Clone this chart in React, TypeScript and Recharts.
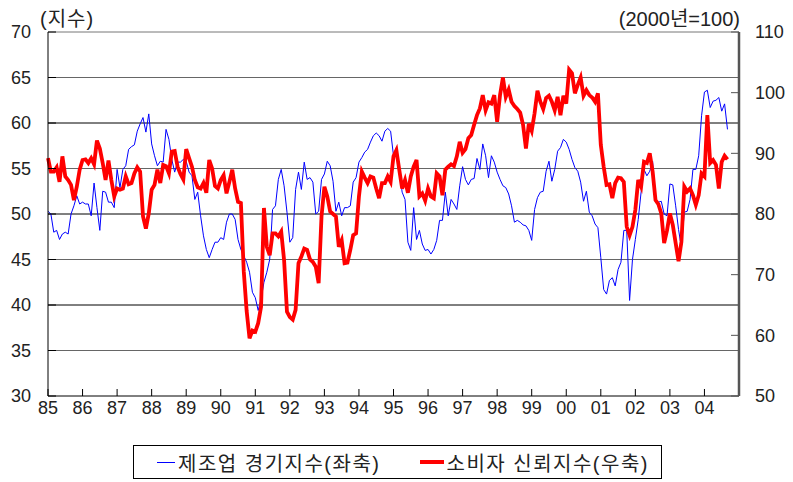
import { CartesianGrid, Line, LineChart, ReferenceLine, XAxis, YAxis } from "recharts";

// Monthly, Jan 1985 .. Sep 2004
const MANUFACTURING = [
  50.3, 50.0, 48.0, 48.2, 47.2, 47.8, 48.0, 47.8, 50.0, 50.9, 52.0, 51.1,
  51.3, 51.1, 51.1, 49.8, 53.4, 50.7, 48.2, 52.5, 52.4, 51.3, 51.3, 50.7,
  54.9, 52.9, 54.9, 55.3, 57.1, 57.4, 57.6, 59.1, 59.9, 60.6, 59.0, 61.0,
  57.7, 56.4, 55.3, 55.8, 55.7, 59.3, 58.2, 56.0, 54.6, 55.7, 55.7, 56.0,
  55.8, 54.6, 54.2, 51.6, 52.4, 49.8, 47.6, 46.1, 45.2, 46.1, 46.9, 46.9,
  47.4, 47.2, 49.1, 50.0, 50.0, 49.4, 47.2, 46.1, 45.4, 44.7, 43.6, 41.4,
  40.8, 39.4, 40.6, 42.5, 43.6, 45.0, 50.5, 50.9, 53.8, 54.9, 53.1, 50.2,
  46.9, 47.4, 52.7, 54.6, 52.7, 55.7, 53.8, 54.0, 53.5, 50.0, 50.3, 53.8,
  54.4, 55.8, 55.3, 53.6, 50.3, 51.3, 49.8, 50.7, 50.7, 50.9, 53.5, 54.0,
  55.7, 56.2, 56.8, 57.1, 57.9, 58.6, 58.9, 58.6, 58.0, 59.1, 59.4, 59.1,
  56.4, 57.3, 54.9, 52.4, 51.6, 46.9, 46.0, 50.7, 47.2, 48.2, 46.7, 46.0,
  46.1, 45.6, 46.1, 47.1, 49.3, 49.3, 52.4, 49.8, 51.6, 51.1, 50.5, 53.1,
  55.2, 53.8, 53.2, 53.8, 53.9, 56.1, 54.9, 57.7, 56.4, 54.0, 56.4, 55.7,
  54.6, 53.8, 53.1, 52.9, 52.2, 50.9, 49.1, 49.3, 49.1, 48.8, 48.7, 48.2,
  47.1, 50.5, 51.8, 52.4, 52.5, 54.7, 55.8, 53.6, 54.9, 56.9, 57.3, 58.2,
  57.9, 57.1, 56.0, 55.1, 54.7, 53.5, 51.4, 52.5, 50.2, 49.8, 48.9, 48.5,
  45.2, 41.7, 41.2, 42.7, 43.0, 42.1, 43.9, 44.7, 48.2, 48.2, 40.5, 45.0,
  47.2, 49.4, 52.4, 54.9, 54.2, 54.7, 55.8, 51.4, 51.3, 51.4, 50.0, 49.8,
  53.3, 53.2, 50.9, 48.3, 46.3, 50.2, 50.3, 51.6, 54.9, 54.9, 56.4, 60.8,
  63.4, 63.6, 61.7, 62.4, 62.5, 62.8, 61.3, 62.1, 59.3,
];

const CONSUMER = [
  89.2, 87.0, 87.0, 87.7, 85.3, 89.5, 86.2, 85.6, 84.8, 82.3, 84.5, 87.3,
  88.9, 89.0, 88.4, 89.2, 88.2, 92.1, 90.8, 88.4, 85.6, 88.8, 85.6, 82.9,
  84.2, 84.0, 84.2, 86.2, 84.9, 85.1, 86.7, 87.7, 87.0, 79.6, 77.6, 80.1,
  84.0, 84.8, 87.3, 85.1, 88.1, 87.9, 86.7, 90.3, 90.4, 87.8, 86.6, 85.7,
  90.7, 89.2, 87.8, 85.6, 84.4, 84.2, 85.1, 83.5, 88.9, 87.5, 84.6, 84.2,
  85.6, 86.4, 83.4, 85.3, 87.3, 84.2, 82.0, 81.8, 70.5, 64.0, 59.5, 60.8,
  60.6, 62.0, 64.7, 81.0, 74.6, 73.2, 76.8, 76.8, 76.3, 77.1, 72.4, 63.9,
  63.0, 62.6, 64.2, 71.9, 73.0, 74.3, 74.1, 72.5, 72.1, 71.3, 68.6, 79.6,
  84.5, 82.9, 80.4, 80.0, 79.6, 74.6, 75.7, 71.9, 72.0, 74.1, 76.5, 76.8,
  82.9, 87.0, 86.0, 85.1, 86.2, 86.0, 84.2, 82.6, 85.1, 85.1, 86.2, 85.3,
  89.5, 90.5, 87.3, 84.2, 85.6, 83.5, 86.2, 87.8, 88.9, 82.9, 83.4, 82.2,
  84.2, 82.9, 82.6, 86.7, 86.2, 83.1, 87.3, 87.8, 88.2, 87.9, 89.5, 91.9,
  90.1, 90.7, 92.5, 93.0, 94.7, 96.3, 97.4, 99.6, 97.1, 98.4, 98.2, 99.6,
  95.2, 99.6, 102.5, 99.3, 100.5, 98.5, 97.8, 97.3, 96.7, 94.7, 90.8, 94.9,
  93.7, 96.6, 100.3, 98.5, 97.3, 99.1, 99.5, 98.5, 97.1, 99.3, 96.3, 99.5,
  98.2, 103.8, 103.2, 99.9, 101.3, 102.5, 99.5, 100.4, 99.6, 99.2, 98.5, 99.9,
  91.4, 87.8, 84.8, 84.9, 82.6, 85.1, 86.0, 85.9, 85.3, 77.9, 76.5, 77.9,
  80.7, 85.6, 84.5, 88.6, 88.4, 90.0, 87.0, 82.3, 81.6, 80.1, 75.2, 77.3,
  80.1, 78.2, 75.2, 72.2, 75.4, 84.5, 83.7, 84.2, 83.1, 81.5, 83.1, 86.7,
  86.2, 96.3, 88.4, 88.9, 88.1, 84.2, 88.6, 89.6, 89.0,
];

const YEAR_TICKS = [0, 12, 24, 36, 48, 60, 72, 84, 96, 108, 120, 132, 144, 156, 168, 180, 192, 204, 216, 228, 240];
const LEFT_TICKS = [30, 35, 40, 45, 50, 55, 60, 65, 70];
const RIGHT_TICKS = [50, 60, 70, 80, 90, 100, 110];
const GRID_LEVELS = [35, 40, 45, 50, 55, 60, 65];

const SERIES_NAMES = ["제조업 경기지수(좌축)", "소비자 신뢰지수(우축)"];

const data = MANUFACTURING.map((v, i) => ({ m: i, mfg: v, cons: CONSUMER[i] }));

const FONT = "'Liberation Sans', 'Noto Sans CJK KR', sans-serif";
const tickStyle = { fontSize: 18, fill: "#222", fontFamily: FONT };

function yearLabel(v: number): string {
  if (v >= 240) return "";
  const y = (85 + v / 12) % 100;
  return String(y).padStart(2, "0");
}

export default function App() {
  return (
    <div style={{ position: "absolute", left: 0, top: 0, width: 793, height: 482, background: "#fff", fontFamily: FONT }}>
      <div style={{ position: "absolute", left: 40, top: 3, fontSize: 20, letterSpacing: 1, color: "#222" }}>(지수)</div>
      <div style={{ position: "absolute", right: 53, top: 3, fontSize: 20, color: "#222" }}>(2000년=100)</div>
      <LineChart
        width={793}
        height={482}
        data={data}
        margin={{ top: 32, right: 9, left: 8, bottom: 56 }}
      >
        <CartesianGrid vertical={false} horizontal={false} />
        {GRID_LEVELS.map((g) => (
          <ReferenceLine key={g} yAxisId="left" y={g} stroke={g % 10 === 0 ? "#000" : "#666"} strokeWidth={1} />
        ))}
        <ReferenceLine yAxisId="left" y={70} stroke="#777" strokeWidth={1} />
        <XAxis
          dataKey="m"
          type="number"
          domain={[0, 240]}
          ticks={YEAR_TICKS}
          tickFormatter={yearLabel}
          interval={0}
          height={30}
          tickSize={-7}
          tickMargin={12}
          tick={tickStyle}
          axisLine={{ stroke: "#000" }}
          tickLine={{ stroke: "#000" }}
        />
        <YAxis
          yAxisId="left"
          orientation="left"
          domain={[30, 70]}
          ticks={LEFT_TICKS}
          interval={0}
          width={40}
          tickSize={-8}
          tickMargin={25}
          tick={tickStyle}
          axisLine={{ stroke: "#000" }}
          tickLine={{ stroke: "#000" }}
        />
        <YAxis
          yAxisId="right"
          orientation="right"
          domain={[50, 110]}
          ticks={RIGHT_TICKS}
          interval={0}
          width={45}
          tickSize={-8}
          tickMargin={24}
          tick={{ ...tickStyle, textAnchor: "start" }}
          axisLine={{ stroke: "#555", strokeWidth: 2.5 }}
          tickLine={{ stroke: "#555" }}
        />
        <Line
          yAxisId="left"
          dataKey="mfg"
          name={SERIES_NAMES[0]}
          stroke="#0000ff"
          strokeWidth={1}
          dot={false}
          isAnimationActive={false}
        />
        <Line
          yAxisId="right"
          dataKey="cons"
          name={SERIES_NAMES[1]}
          stroke="#ff0000"
          strokeWidth={3.8}
          dot={false}
          isAnimationActive={false}
        />
      </LineChart>
      <div
        style={{
          position: "absolute",
          left: 133,
          top: 445,
          width: 529,
          height: 34,
          border: "1px solid #000",
          boxSizing: "border-box",
          display: "flex",
          alignItems: "center",
          fontSize: 20,
          color: "#222",
          whiteSpace: "nowrap",
        }}
      >
        <span style={{ display: "inline-block", width: 18, height: 0, borderTop: "1px solid #0000ff", marginLeft: 23, marginRight: 3 }} />
        <span style={{ letterSpacing: 1.5 }}>{SERIES_NAMES[0]}</span>
        <span style={{ display: "inline-block", width: 24, height: 0, borderTop: "4px solid #ff0000", marginLeft: 40, marginRight: 2 }} />
        <span style={{ letterSpacing: 1.5 }}>{SERIES_NAMES[1]}</span>
      </div>
    </div>
  );
}
